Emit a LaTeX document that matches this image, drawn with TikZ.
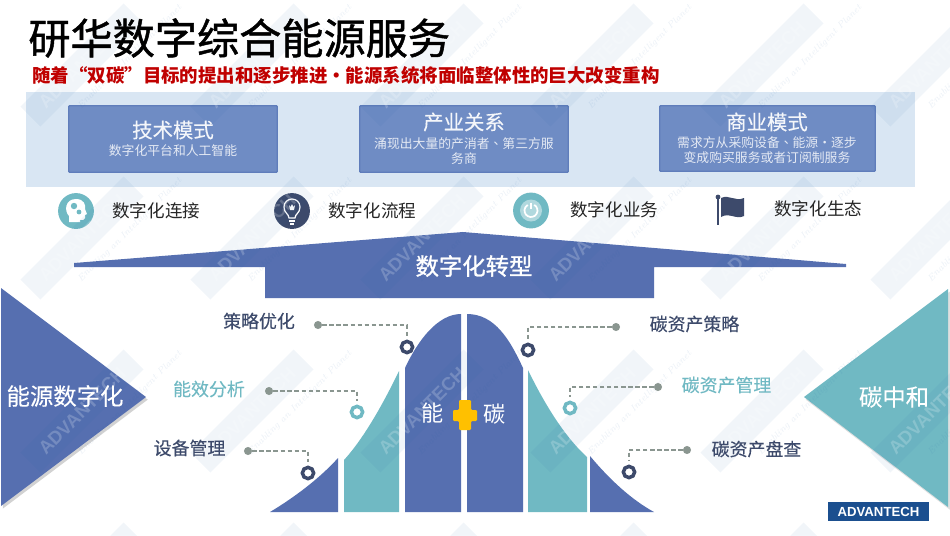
\documentclass[tikz,border=0pt]{standalone}
\usepackage{fontspec}
\setmainfont{Noto Sans CJK SC}
\newfontfamily\twfont{Noto Sans CJK TC}
\newfontfamily\logofont{Liberation Sans}
\newfontfamily\titlefont[FakeBold=1.1]{Noto Sans CJK SC}
\newfontfamily\midfont[FakeBold=0.2]{Noto Sans CJK SC}
\usetikzlibrary{shadows}
\definecolor{bandblue}{HTML}{566FB0}
\definecolor{tealfill}{HTML}{70B9C3}
\definecolor{navyink}{HTML}{3D4A6B}
\definecolor{paleback}{HTML}{D9E6F3}
\definecolor{boxfill}{HTML}{6F8CC4}
\definecolor{boxline}{HTML}{5F7DBB}
\definecolor{redline}{HTML}{C00000}
\definecolor{dotgray}{HTML}{8A9690}
\definecolor{wmblue}{HTML}{1F5FA8}
\definecolor{logoblue}{HTML}{1B4F8F}
\definecolor{plusgold}{HTML}{FFC000}
\tikzset{
  titletext/.style={black, font=\titlefont\fontsize{24}{28}\selectfont, anchor=west, inner sep=0pt},
  redtext/.style={redline, font=\fontsize{10.5}{12}\selectfont\bfseries, anchor=west, inner sep=0pt},
  modebox/.style={draw=boxline, fill=boxfill, line width=0.8pt, rounded corners=0.5pt},
  modehead/.style={text=white!92!boxfill, font=\midfont\fontsize{11.6}{14}\selectfont, inner sep=0pt},
  modesub/.style={text=white!82!boxfill, font=\fontsize{7.3}{9}\selectfont, inner sep=0pt},
  itemtext/.style={black!85, font=\fontsize{10}{12}\selectfont, anchor=west, inner sep=0pt},
  bigwhite/.style={white, font=\midfont\fontsize{13.3}{16}\selectfont, inner sep=0pt},
  darklabel/.style={navyink, font=\midfont\fontsize{10.2}{12}\selectfont, inner sep=0pt},
  teallabel/.style={tealfill, font=\midfont\fontsize{10.2}{12}\selectfont, inner sep=0pt},
  ringdark/.style={circle, draw=navyink, fill=white, line width=2pt, minimum size=6.4pt, inner sep=0pt},
  ringteal/.style={circle, draw=tealfill, fill=white, line width=2pt, minimum size=6.4pt, inner sep=0pt},
  graydot/.style={circle, fill=dotgray, minimum size=4.6pt, inner sep=0pt},
  dashline/.style={draw=dotgray, line width=0.6pt, dash pattern=on 2.4pt off 1.6pt, shorten >=2pt},
  iconround/.style={circle, minimum size=20.4pt, inner sep=0pt},
  iconline/.style={draw=white, line width=0.7pt},
  wmband/.style={rectangle, fill=wmblue, fill opacity=0.06, text=white, text opacity=0.2,
    minimum width=2.92cm, minimum height=0.56cm, inner sep=0pt, rotate=45,
    font=\logofont\bfseries\fontsize{10.5}{12}\selectfont},
  wmsmall/.style={text=wmblue, text opacity=0.09, rotate=45, inner sep=0pt,
    font=\fontfamily{lmr}\itshape\fontsize{5.2}{6}\selectfont},
}
\begin{document}
\begin{tikzpicture}[x=0.02cm, y=-0.02cm]
\clip (0,0) rectangle (950,535);
\fill[white] (0,0) rectangle (950,535);
% top panel
\fill[paleback] (26,92) rectangle (915,187);
\node[modebox, minimum width=4.17cm, minimum height=1.33cm] (techbox) at (173,139) {};
\node[modebox, minimum width=4.17cm, minimum height=1.33cm] (indbox) at (464,139) {};
\node[modebox, minimum width=4.31cm, minimum height=1.31cm] (bizbox) at (767.5,138.5) {};
% icons
\node[iconround, fill=tealfill] (headicon) at (76,211) {};
\node[iconround, fill=navyink] (bulbicon) at (292,211) {};
\node[iconround, fill=tealfill] (powericon) at (531,210.5) {};
\begin{scope}[shift={(76,211)}]
\fill[white] (-7,11) -- (-7,5) .. controls (-12,0) and (-11,-12) .. (0,-12) .. controls (8,-12) and (10,-6) .. (9,-2) -- (11,3) -- (9,4) -- (9,7) .. controls (9,9) and (6,9) .. (4,9) -- (4,11) -- cycle;
\fill[tealfill] (-2,-5) circle (3.2);
\fill[tealfill] (3,1) circle (2.4);
\end{scope}
\begin{scope}[shift={(292,211)}]
\draw[iconline] (-3,7) .. controls (-3,3) and (-8,2) .. (-8,-4) .. controls (-8,-9) and (-4,-12) .. (0,-12) .. controls (4,-12) and (8,-9) .. (8,-4) .. controls (8,2) and (3,3) .. (3,7) -- cycle;
\draw[iconline] (-3,10) -- (3,10);
\draw[iconline] (-2,13) -- (2,13);
\fill[white] (-3,-6) -- (-1.5,-4) -- (0,-7) -- (1.5,-4) -- (3,-6) -- (2,-1) -- (-2,-1) -- cycle;
\end{scope}
\begin{scope}[shift={(531,210.5)}]
\fill[white!45!tealfill] (0,0) circle (11);
\draw[white, line width=1pt] (300:6.5) arc (300:600:6.5);
\draw[white, line width=1pt] (0,-8) -- (0,-2);
\end{scope}
\draw[navyink, line width=1.2pt] (718,197) -- (718,225);
\fill[navyink] (718,197) circle (2.4);
\fill[navyink] (721,198) .. controls (729,194) and (735,202) .. (744,198) -- (744,216) .. controls (736,220) and (729,212) .. (721,217) -- cycle;
% banner and side triangles
\fill[bandblue] (74,263) -- (463,232) -- (846,264) -- (846,267) -- (654,267) -- (654,298) -- (265,298) -- (265,267) -- (74,267) -- cycle;
\fill[bandblue, drop shadow={shadow xshift=1pt, shadow yshift=-1.5pt, opacity=0.35}] (1,288) -- (146,397) -- (1,506) -- cycle;
\fill[tealfill, drop shadow={shadow xshift=1pt, shadow yshift=-1.5pt, opacity=0.25}] (948,289) -- (804,397) -- (948,507) -- cycle;
% curve
\fill[bandblue] (270,512) .. controls (295,497) and (320,478) .. (338,458) -- (338,512) -- cycle;
\fill[tealfill] (344,460) .. controls (365,437) and (385,400) .. (399,371) -- (399,512) -- (344,512) -- cycle;
\fill[bandblue] (405,368) .. controls (418,340) and (438,314) .. (461,314) -- (461,512) -- (405,512) -- cycle;
\fill[bandblue] (467,314) .. controls (495,314) and (510,340) .. (523,368) -- (523,512) -- (467,512) -- cycle;
\fill[tealfill] (528,370) .. controls (545,405) and (565,437) .. (587,457) -- (587,512) -- (528,512) -- cycle;
\fill[bandblue] (590,456) .. controls (610,480) and (632,500) .. (654,512) -- (590,512) -- cycle;
% watermark
\foreach \wx in {82,252,422,592,762,932} {
  \foreach \wy in {65,238,411} {
    \node[wmband] (wm\wx\wy) at (\wx,\wy) {ADVANTECH};
    \node[wmsmall] (wt\wx\wy) at (\wx+48,\wy-8) {Enabling an Intelligent Planet};
  }
  \node[wmband] (wm\wx) at (\wx,584) {};
}
% plus
\fill[plusgold, rounded corners=0.6pt] (459,400) -- (471,400) -- (471,410) -- (477,410) -- (477,421) -- (471,421) -- (471,430) -- (459,430) -- (459,421) -- (453,421) -- (453,410) -- (459,410) -- cycle;
% texts
\node[titletext] (maintitle) at (28,38) {研华数字综合能源服务};
\node[redtext] (redtitle) at (32,75) {随着“双碳”目标的提出和逐步推进·能源系统将面临整体性的巨大改变重构};
\node[modehead] (techhead) at (173,130) {技术模式};
\node[modesub] (techsub) at (173,151) {数字化平台和人工智能};
\node[modehead] (indhead) at (464,122) {产业关系};
\node[modesub] (indsuba) at (464,144) {涌现出大量的产消者{\twfont 、}第三方服};
\node[modesub] (indsubb) at (464,159) {务商};
\node[modehead] (bizhead) at (767,122) {商业模式};
\node[modesub] (bizsuba) at (767,143) {需求方从采购设备{\twfont 、}能源·逐步};
\node[modesub] (bizsubb) at (767,158) {变成购买服务或者订阅制服务};
\node[itemtext] (itema) at (112,211) {数字化连接};
\node[itemtext] (itemb) at (328,211) {数字化流程};
\node[itemtext] (itemc) at (570,210) {数字化业务};
\node[itemtext] (itemd) at (774,209) {数字化生态};
\node[bigwhite, font=\titlefont\fontsize{13.3}{16}\selectfont] (turnlabel) at (474,266) {数字化转型};
\node[bigwhite] (leftlabel) at (65,396) {能源数字化};
\node[bigwhite] (rightlabel) at (894,397) {碳中和};
\node[white, font=\fontsize{12.6}{15}\selectfont, inner sep=0pt] (nenglabel) at (433,413) {能};
\node[white, font=\fontsize{12.6}{15}\selectfont, inner sep=0pt] (tanlabel) at (495,414) {碳};
% left labels
\node[darklabel] (leftc) at (259,321) {策略优化};
\node[teallabel] (leftb) at (209,389) {能效分析};
\node[darklabel] (lefta) at (189.5,448) {设备管理};
\node[graydot] (dotlc) at (318,325) {};
\node[graydot] (dotlb) at (269,391) {};
\node[graydot] (dotla) at (248,451) {};
\node[ringdark] (ringlc) at (407,347) {};
\node[ringteal] (ringlb) at (357,412) {};
\node[ringdark] (ringla) at (308,473) {};
\draw[dashline] (dotlc) -| (ringlc);
\draw[dashline] (dotlb) -| (ringlb);
\draw[dashline] (dotla) -| (ringla);
% right labels
\node[darklabel] (rightc) at (694.5,324) {碳资产策略};
\node[teallabel] (rightb) at (726.5,385) {碳资产管理};
\node[darklabel] (righta) at (756.5,449) {碳资产盘查};
\node[graydot] (dotrc) at (616,327) {};
\node[graydot] (dotrb) at (658,387) {};
\node[graydot] (dotra) at (687,450) {};
\node[ringdark] (ringrc) at (528,350) {};
\node[ringteal] (ringrb) at (570,408) {};
\node[ringdark] (ringra) at (629,472) {};
\draw[dashline] (dotrc) -| (ringrc);
\draw[dashline] (dotrb) -| (ringrb);
\draw[dashline] (dotra) -| (ringra);
% logo
\node[fill=logoblue, text=white, minimum width=2.02cm, minimum height=0.38cm, inner sep=0pt, font=\logofont\bfseries\fontsize{7.5}{9}\selectfont] (logobox) at (878.5,511.5) {ADVANTECH};
\end{tikzpicture}
\end{document}
